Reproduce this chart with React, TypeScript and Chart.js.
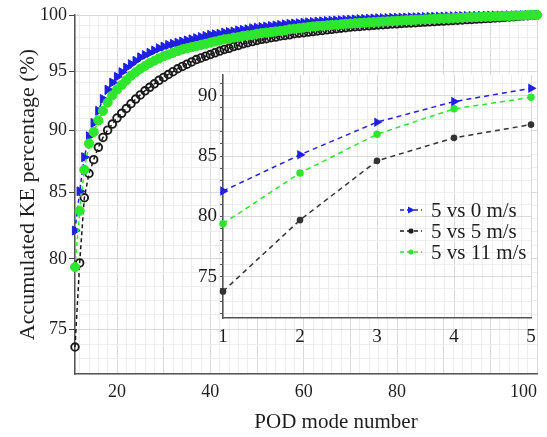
import React, { useEffect, useRef } from 'react';
import { Chart, registerables } from 'chart.js';

Chart.register(...registerables);

// ---------- data ----------
const modeNumbers = Array.from({ length: 100 }, (_, i) => i + 1);
const seriesNames = ['5 vs 0 m/s', '5 vs 5 m/s', '5 vs 11 m/s'];

const ke5vs0 = [
  82.1, 85.1, 87.8, 89.5, 90.6, 91.6, 92.6, 93.4, 94.0, 94.5,
  94.9, 95.3, 95.6, 95.9, 96.2, 96.4, 96.6, 96.8, 97.0, 97.15,
  97.3, 97.4, 97.5, 97.6, 97.7, 97.8, 97.9, 98.0, 98.1, 98.2,
  98.25, 98.3, 98.4, 98.45, 98.5, 98.6, 98.65, 98.7, 98.8, 98.85,
  98.9, 98.95, 99.0, 99.05, 99.1, 99.15, 99.2, 99.22, 99.25, 99.3,
  99.33, 99.36, 99.4, 99.42, 99.45, 99.48, 99.5, 99.52, 99.55, 99.57,
  99.6, 99.62, 99.64, 99.66, 99.68, 99.7, 99.71, 99.72, 99.74, 99.75,
  99.76, 99.77, 99.79, 99.8, 99.81, 99.82, 99.83, 99.84, 99.85, 99.86,
  99.87, 99.88, 99.89, 99.9, 99.9, 99.91, 99.92, 99.93, 99.93, 99.94,
  99.95, 99.95, 99.96, 99.97, 99.97, 99.98, 99.98, 99.99, 99.99, 100.0,
];

const ke5vs5 = [
  73.8, 79.7, 84.6, 86.5, 87.6, 88.6, 89.4, 90.0, 90.5, 91.0,
  91.4, 91.8, 92.2, 92.6, 92.95, 93.3, 93.6, 93.9, 94.2, 94.45,
  94.7, 94.95, 95.2, 95.4, 95.6, 95.8, 96.0, 96.15, 96.3, 96.45,
  96.6, 96.75, 96.9, 97.0, 97.15, 97.25, 97.4, 97.5, 97.6, 97.7,
  97.8, 97.85, 97.95, 98.0, 98.1, 98.15, 98.2, 98.3, 98.35, 98.4,
  98.45, 98.5, 98.55, 98.6, 98.65, 98.7, 98.75, 98.8, 98.85, 98.9,
  98.93, 98.96, 99.0, 99.03, 99.06, 99.1, 99.12, 99.15, 99.18, 99.2,
  99.23, 99.26, 99.28, 99.3, 99.33, 99.36, 99.38, 99.4, 99.43, 99.45,
  99.48, 99.5, 99.53, 99.55, 99.58, 99.6, 99.63, 99.65, 99.68, 99.7,
  99.73, 99.76, 99.79, 99.82, 99.85, 99.88, 99.91, 99.94, 99.97, 100.0,
];

const ke5vs11 = [
  79.4, 83.6, 86.8, 88.9, 89.85, 90.8, 91.6, 92.3, 92.9, 93.4,
  93.8, 94.2, 94.6, 94.9, 95.2, 95.45, 95.7, 95.9, 96.1, 96.3,
  96.45, 96.6, 96.75, 96.9, 97.0, 97.1, 97.2, 97.3, 97.4, 97.5,
  97.6, 97.7, 97.8, 97.85, 97.95, 98.0, 98.1, 98.15, 98.2, 98.3,
  98.35, 98.4, 98.45, 98.5, 98.55, 98.6, 98.7, 98.75, 98.8, 98.85,
  98.9, 98.95, 99.0, 99.02, 99.05, 99.1, 99.12, 99.15, 99.2, 99.22,
  99.25, 99.28, 99.3, 99.33, 99.35, 99.38, 99.4, 99.42, 99.45, 99.47,
  99.5, 99.52, 99.54, 99.56, 99.58, 99.6, 99.62, 99.64, 99.66, 99.68,
  99.7, 99.72, 99.74, 99.76, 99.78, 99.8, 99.81, 99.83, 99.85, 99.86,
  99.88, 99.89, 99.91, 99.92, 99.94, 99.95, 99.96, 99.98, 99.99, 100.0,
];

const insetCount = 5;
const insetModes = modeNumbers.slice(0, insetCount);

// tick labels
const xTickValues = [10, 30, 50, 70, 100];
const xTickLabels = ['20', '40', '60', '80', '100'];
const yTickValues = [75, 80, 85, 90, 95, 100];
const insetXTickValues = [1, 2, 3, 4, 5];
const insetYTickValues = [75, 80, 85, 90];

const xTitle = 'POD mode number';
const yTitle = 'Accumulated KE percentage (%)';

// ---------- styles ----------
const SERIF = "'Liberation Serif', 'Times New Roman', Times, serif";
const BLUE = '#1f1fe6';
const BLACK = '#1a1a1a';
const GREEN = '#2ee62e';
const TEXT = '#1e1e1e';
const AXIS = '#555555';
const GRID_MAJOR = '#d9d9d9';
const GRID_MINOR = '#ededed';

const xGridPositions: number[] = [1];
for (let v = 2; v <= 100; v += 2) xGridPositions.push(v);
const yGridPositions: number[] = [];
for (let v = 72; v <= 100; v += 1) yGridPositions.push(v);
const insetXGrid: number[] = [];
for (let k = 0; k <= 32; k++) insetXGrid.push(1 + k * 0.125);
const insetYGrid: number[] = [];
for (let v = 72; v <= 91; v += 1) insetYGrid.push(v);

const pts = (xs: number[], ys: number[]) => xs.map((x, i) => ({ x, y: ys[i] }));

const xTitlePlugin = {
  id: 'xTitlePlugin',
  afterDraw(chart: any) {
    const { ctx, chartArea } = chart;
    ctx.save();
    ctx.font = `21px ${SERIF}`;
    ctx.fillStyle = TEXT;
    ctx.textAlign = 'center';
    ctx.textBaseline = 'middle';
    ctx.fillText(xTitle, (chartArea.left + chartArea.right) / 2 + 30, chartArea.bottom + 48);
    ctx.restore();
  },
};

const insetBgPlugin = {
  id: 'insetBg',
  beforeDraw(chart: any) {
    const { ctx, chartArea } = chart;
    ctx.save();
    ctx.fillStyle = '#ffffff';
    ctx.fillRect(chartArea.left, chartArea.top, chartArea.right - chartArea.left, chartArea.bottom - chartArea.top);
    ctx.restore();
  },
};

const legendColors = [BLUE, BLACK, GREEN];
const insetLegendPlugin = {
  id: 'insetLegend',
  afterDraw(chart: any) {
    const { ctx, chartArea } = chart;
    ctx.save();
    seriesNames.forEach((name, i) => {
      const y = chartArea.top + 135 + i * 21;
      const x0 = chartArea.right - 131;
      const x1 = chartArea.right - 109;
      const col = legendColors[i];
      ctx.strokeStyle = col;
      ctx.lineWidth = 1.5;
      ctx.setLineDash([4, 3]);
      ctx.beginPath();
      ctx.moveTo(x0, y);
      ctx.lineTo(x1, y);
      ctx.stroke();
      ctx.setLineDash([]);
      const cx = (x0 + x1) / 2;
      ctx.fillStyle = col;
      ctx.beginPath();
      if (i === 0) {
        ctx.moveTo(cx - 3, y - 3.5);
        ctx.lineTo(cx + 4, y);
        ctx.lineTo(cx - 3, y + 3.5);
        ctx.closePath();
      } else {
        ctx.arc(cx, y, 2.6, 0, Math.PI * 2);
      }
      ctx.fill();
      ctx.font = `21px ${SERIF}`;
      ctx.fillStyle = TEXT;
      ctx.textAlign = 'left';
      ctx.textBaseline = 'middle';
      ctx.fillText(name, chartArea.right - 100, y + 1);
    });
    ctx.restore();
  },
};

function mainConfig(): any {
  return {
    type: 'line',
    data: {
      datasets: [
        {
          label: seriesNames[0],
          data: pts(modeNumbers, ke5vs0),
          borderColor: BLUE,
          backgroundColor: BLUE,
          borderWidth: 1.5,
          borderDash: [4, 3],
          pointStyle: 'triangle',
          rotation: 90,
          pointRadius: 5.2,
          pointBorderWidth: 1,
          pointBackgroundColor: BLUE,
          pointBorderColor: BLUE,
          order: 2,
          clip: false,
        },
        {
          label: seriesNames[1],
          data: pts(modeNumbers, ke5vs5),
          borderColor: BLACK,
          backgroundColor: 'rgba(0,0,0,0)',
          borderWidth: 1.5,
          borderDash: [4, 3],
          pointStyle: 'circle',
          pointRadius: 3.8,
          pointBorderWidth: 1.9,
          pointBackgroundColor: 'rgba(0,0,0,0)',
          pointBorderColor: BLACK,
          order: 1,
          clip: false,
        },
        {
          label: seriesNames[2],
          data: pts(modeNumbers, ke5vs11),
          borderColor: GREEN,
          backgroundColor: GREEN,
          borderWidth: 1.5,
          borderDash: [4, 3],
          pointStyle: 'circle',
          pointRadius: 4.6,
          pointBorderWidth: 1,
          pointBackgroundColor: GREEN,
          pointBorderColor: GREEN,
          order: 0,
          clip: false,
        },
      ],
    },
    options: {
      responsive: false,
      animation: false,
      devicePixelRatio: 1,
      layout: { padding: { top: 15, right: 10, left: 0, bottom: 0 } },
      plugins: { legend: { display: false }, tooltip: { enabled: false } },
      elements: { line: { tension: 0 } },
      scales: {
        x: {
          type: 'linear',
          min: 1,
          max: 100,
          afterBuildTicks: (s: any) => {
            s.ticks = xGridPositions.map((v) => ({ value: v }));
          },
          afterFit: (s: any) => {
            s.height = 63;
          },
          grid: {
            color: (c: any) => (c.tick && c.tick.value % 10 === 0 ? GRID_MAJOR : GRID_MINOR),
            drawTicks: false,
          },
          border: { display: true, color: AXIS, width: 1.5 },
          ticks: {
            autoSkip: false,
            maxRotation: 0,
            align: 'inner',
            padding: 7,
            color: TEXT,
            font: { family: SERIF, size: 18 },
            callback: (v: number) => {
              const i = xTickValues.indexOf(v);
              return i >= 0 ? xTickLabels[i] : '';
            },
          },
        },
        y: {
          type: 'logarithmic',
          min: 72,
          max: 100,
          afterBuildTicks: (s: any) => {
            s.ticks = yGridPositions.map((v) => ({ value: v }));
          },
          afterFit: (s: any) => {
            s.width = 75;
          },
          grid: {
            color: (c: any) => (c.tick && c.tick.value % 5 === 0 ? GRID_MAJOR : GRID_MINOR),
            tickColor: (c: any) => (c.tick && c.tick.value % 5 === 0 ? '#444' : 'rgba(0,0,0,0)'),
            tickLength: 6,
          },
          border: { display: true, color: AXIS, width: 1.5 },
          ticks: {
            autoSkip: false,
            padding: 2,
            color: TEXT,
            font: { family: SERIF, size: 18 },
            callback: (v: number) => (yTickValues.includes(v) ? String(v) : ''),
          },
          title: {
            display: true,
            text: yTitle,
            color: TEXT,
            font: { family: SERIF, size: 22 },
            padding: { top: 15, bottom: 0 },
          },
        },
      },
    },
    plugins: [xTitlePlugin],
  };
}

function insetConfig(): any {
  return {
    type: 'line',
    data: {
      datasets: [
        {
          label: seriesNames[0],
          data: pts(insetModes, ke5vs0.slice(0, insetCount)),
          borderColor: BLUE,
          borderWidth: 1.5,
          borderDash: [5, 4],
          pointStyle: 'triangle',
          rotation: 90,
          pointRadius: 4,
          pointBackgroundColor: BLUE,
          pointBorderColor: BLUE,
          clip: false,
        },
        {
          label: seriesNames[1],
          data: pts(insetModes, ke5vs5.slice(0, insetCount)),
          borderColor: '#333333',
          borderWidth: 1.5,
          borderDash: [5, 4],
          pointStyle: 'circle',
          pointRadius: 2.6,
          pointBackgroundColor: '#333333',
          pointBorderColor: '#333333',
          clip: false,
        },
        {
          label: seriesNames[2],
          data: pts(insetModes, ke5vs11.slice(0, insetCount)),
          borderColor: GREEN,
          borderWidth: 1.5,
          borderDash: [5, 4],
          pointStyle: 'circle',
          pointRadius: 3,
          pointBackgroundColor: GREEN,
          pointBorderColor: GREEN,
          clip: false,
        },
      ],
    },
    options: {
      responsive: false,
      animation: false,
      devicePixelRatio: 1,
      layout: { padding: { top: 15, right: 16, left: 0, bottom: 0 } },
      plugins: { legend: { display: false }, tooltip: { enabled: false } },
      elements: { line: { tension: 0 } },
      scales: {
        x: {
          type: 'linear',
          min: 1,
          max: 5,
          afterBuildTicks: (s: any) => {
            s.ticks = insetXGrid.map((v) => ({ value: v }));
          },
          afterFit: (s: any) => {
            s.height = 42;
          },
          grid: {
            color: (c: any) => (c.tick && Number.isInteger(c.tick.value) ? GRID_MAJOR : GRID_MINOR),
            drawTicks: false,
          },
          border: { display: true, color: AXIS, width: 1.5 },
          ticks: {
            autoSkip: false,
            maxRotation: 0,
            padding: 8,
            color: TEXT,
            font: { family: SERIF, size: 19 },
            callback: (v: number) => (insetXTickValues.includes(v) ? String(v) : ''),
          },
        },
        y: {
          type: 'linear',
          min: 71.6,
          max: 91.7,
          afterBuildTicks: (s: any) => {
            s.ticks = insetYGrid.map((v) => ({ value: v }));
          },
          afterFit: (s: any) => {
            s.width = 53;
          },
          grid: {
            color: (c: any) => (c.tick && c.tick.value % 5 === 0 ? GRID_MAJOR : GRID_MINOR),
            tickColor: '#555',
            tickLength: 3,
          },
          border: { display: true, color: AXIS, width: 1.5 },
          ticks: {
            autoSkip: false,
            padding: 3,
            color: TEXT,
            font: { family: SERIF, size: 19 },
            callback: (v: number) => (insetYTickValues.includes(v) ? String(v) : ''),
          },
        },
      },
    },
    plugins: [insetBgPlugin, insetLegendPlugin],
  };
}

export default function App() {
  const mainRef = useRef<HTMLCanvasElement>(null);
  const insetRef = useRef<HTMLCanvasElement>(null);

  useEffect(() => {
    const main = new Chart(mainRef.current as HTMLCanvasElement, mainConfig());
    const inset = new Chart(insetRef.current as HTMLCanvasElement, insetConfig());
    return () => {
      main.destroy();
      inset.destroy();
    };
  }, []);

  return (
    <div style={{ position: 'fixed', left: 0, top: 0, width: 547, height: 437, background: '#ffffff' }}>
      <canvas
        ref={mainRef}
        width={547}
        height={437}
        style={{ position: 'absolute', left: 0, top: 0, width: 547, height: 437 }}
      />
      <canvas
        ref={insetRef}
        width={377}
        height={300}
        style={{ position: 'absolute', left: 170, top: 60, width: 377, height: 300 }}
      />
    </div>
  );
}
